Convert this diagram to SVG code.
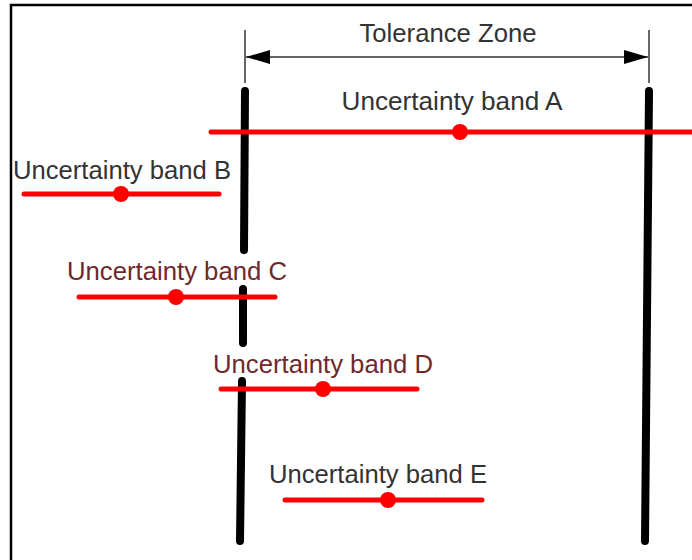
<svg xmlns="http://www.w3.org/2000/svg" width="692" height="560" viewBox="0 0 692 560">
<style>
.lbl{font-family:"Liberation Sans",Arial,sans-serif;font-size:25px;text-anchor:middle;fill:#333}
.lblr{font-family:"Liberation Sans",Arial,sans-serif;font-size:25px;text-anchor:middle;fill:#6e2a2a}
.band{stroke:#ff0000;stroke-width:5;stroke-linecap:round;fill:none}
.dot{fill:#ff0000}
.limit{stroke:#000;stroke-width:8;stroke-linecap:round;fill:none}
.tick{stroke:#333;stroke-width:1.5;fill:none}
</style>
<defs>
<marker id="ah" viewBox="0 0 24 14" refX="24" refY="7" markerWidth="24" markerHeight="14" markerUnits="userSpaceOnUse" orient="auto-start-reverse">
<path d="M0,0 L24,7 L0,14 Z" fill="#000"/>
</marker>
</defs>
<rect width="692" height="560" fill="#fff"/>
<path d="M11,560 V5 H692" stroke="#000" stroke-width="2.5" fill="none"/>
<g id="tolerance-zone">
<line class="tick" x1="245" y1="30" x2="245" y2="83"/>
<line class="tick" x1="649" y1="30" x2="649" y2="83"/>
<line class="tick" x1="246" y1="57" x2="648" y2="57" marker-start="url(#ah)" marker-end="url(#ah)"/>
<text class="lbl" x="448" y="42" textLength="177" lengthAdjust="spacingAndGlyphs">Tolerance Zone</text>
</g>
<g id="limit-lower">
<path class="limit" d="M245,91 L244,250 M243,289 L243,343 M242,381 L240,541"/>
</g>
<g id="limit-upper">
<path class="limit" d="M649,91 L645,541"/>
</g>
<g id="band-a">
<line class="band" x1="211" y1="132" x2="696" y2="132"/>
<circle class="dot" cx="460" cy="132" r="8"/>
<text class="lbl" x="452" y="110" textLength="221" lengthAdjust="spacingAndGlyphs">Uncertainty band A</text>
</g>
<g id="band-b">
<line class="band" x1="24" y1="194" x2="219" y2="194"/>
<circle class="dot" cx="121" cy="194" r="8"/>
<text class="lbl" x="122" y="179" textLength="218" lengthAdjust="spacingAndGlyphs">Uncertainty band B</text>
</g>
<g id="band-c">
<line class="band" x1="79" y1="297" x2="275" y2="297"/>
<circle class="dot" cx="176" cy="297" r="8"/>
<text class="lblr" x="177" y="280" textLength="220" lengthAdjust="spacingAndGlyphs">Uncertainty band C</text>
</g>
<g id="band-d">
<line class="band" x1="221" y1="389" x2="417" y2="389"/>
<circle class="dot" cx="323" cy="389" r="8"/>
<text class="lblr" x="323" y="373" textLength="220" lengthAdjust="spacingAndGlyphs">Uncertainty band D</text>
</g>
<g id="band-e">
<line class="band" x1="285" y1="500" x2="482" y2="500"/>
<circle class="dot" cx="388" cy="500" r="8"/>
<text class="lbl" x="378" y="483" textLength="218" lengthAdjust="spacingAndGlyphs">Uncertainty band E</text>
</g>
</svg>
